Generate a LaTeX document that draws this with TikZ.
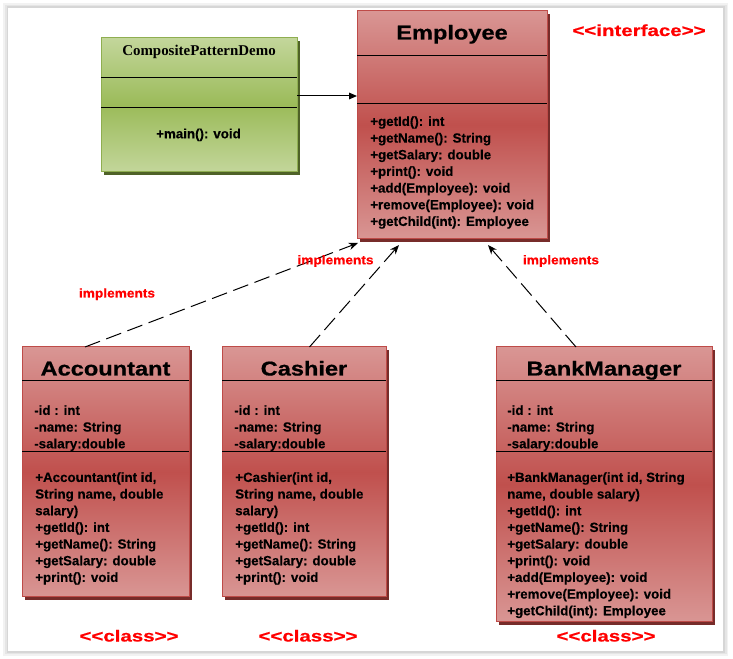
\documentclass[tikz,border=0pt]{standalone}
\usepackage{fontspec}
\usepackage{xcolor}
\usepackage{tikz}
\usetikzlibrary{positioning,calc,fit,shadows,arrows.meta}
\setmainfont{Liberation Sans}
\newfontfamily\titlefont{Liberation Sans}[FakeStretch=1.18, FakeBold=0.6]
\newfontfamily\tagfont{Liberation Sans}[FakeStretch=1.28, FakeBold=0.6]
\newfontfamily\implfont{Liberation Sans}[FakeStretch=1.08, FakeBold=0.4]
\newfontfamily\bodyfont{Liberation Sans}[FakeBold=0.3]
\newfontfamily\demofont{Liberation Serif}

\definecolor{redlight}{HTML}{D99694}
\definecolor{reddark}{HTML}{C0504D}
\definecolor{redline}{HTML}{BE4B48}
\definecolor{redshadow}{HTML}{772C2A}
\definecolor{greenlight}{HTML}{C3D69B}
\definecolor{greendark}{HTML}{9BBB59}
\definecolor{greenline}{HTML}{8FAE50}
\definecolor{greenshadow}{HTML}{4F6228}

\tikzset{
  classbox/.style={draw=redline, line width=0.75pt, inner sep=0pt, outer sep=0pt,
    top color=redlight, bottom color=redlight, middle color=reddark,
    drop shadow={shadow xshift=2.25pt, shadow yshift=-2.25pt, fill=redshadow, opacity=1}},
  demobox/.style={draw=greenline, line width=0.75pt, inner sep=0pt, outer sep=0pt,
    top color=greenlight, bottom color=greenlight, middle color=greendark,
    drop shadow={shadow xshift=2.25pt, shadow yshift=-2.25pt, fill=greenshadow, opacity=1}},
  divider/.style={line width=0.75pt, black},
  classname/.style={font={\titlefont\bfseries\fontsize{15}{18}\selectfont}, anchor=base, inner sep=0pt},
  demoname/.style={font={\demofont\bfseries\fontsize{11.2}{13}\selectfont}, anchor=base, inner sep=0pt},
  members/.style={font={\bodyfont\bfseries\fontsize{10}{12.5}\selectfont}, align=left, anchor=north west, inner sep=0pt},
  stereotype/.style={font={\tagfont\bfseries\fontsize{12}{14}\selectfont}, text=red, anchor=base, inner sep=0pt},
  impllabel/.style={font={\implfont\bfseries\fontsize{9.5}{11}\selectfont}, text=red, anchor=base, inner sep=0pt},
  realize/.style={line width=0.75pt, dash pattern=on 12pt off 5pt, -{Stealth[length=7pt,width=5.5pt]}},
  assoc/.style={line width=0.75pt, -{Triangle[length=6pt,width=5pt]}},
}

\begin{document}
\begin{tikzpicture}[x=0.75pt, y=-0.75pt]
        \useasboundingbox (0,0) rectangle (733,659);
        \fill[white] (0,0) rectangle (733,659);

        % Page with its shadow
        \fill[black!5] (3,3) rectangle (728,656);
        \fill[black!10] (5,5) rectangle (726.5,654.5);
        \fill[black!16] (6.5,6.5) rectangle (725,653);
        \fill[white] (8,8) rectangle (723,651);

        % Demo class
        \node[demobox, fit={(101,38) (297,172)}] (demo) {};
        \draw[divider] ($(demo.north west)+(0,40)$) -- ($(demo.north east)+(0,40)$);
        \draw[divider] ($(demo.north west)+(0,70)$) -- ($(demo.north east)+(0,70)$);
        \node[demoname] (demoname) at (199,56) {CompositePatternDemo};
        \node[members, anchor=base] (demoops) at (198.5,138.3) {+main(): void};

        % Employee interface
        \node[classbox, fit={(357,11) (547,239)}] (emp) {};
        \draw[divider] ($(emp.north west)+(0,45)$) -- ($(emp.north east)+(0,45)$);
        \draw[divider] ($(emp.north west)+(0,93)$) -- ($(emp.north east)+(0,93)$);
        \node[classname] (empname) at (452,39.5) {Employee};
        \node[members] (empops) at (370,116) {+getId(): int\\+getName(): String\\+getSalary: double\\+print(): void\\+add(Employee): void\\+remove(Employee): void\\+getChild(int): Employee};
        \node[stereotype] (emptag) at (639,36) {<<interface>>};

        % Accountant class
        \node[classbox, fit={(22,347) (189,597)}] (acc) {};
        \draw[divider] ($(acc.north west)+(0,34)$) -- ($(acc.north east)+(0,34)$);
        \draw[divider] ($(acc.north west)+(0,105)$) -- ($(acc.north east)+(0,105)$);
        \node[classname] (accname) at (105.5,375.5) {Accountant};
        \node[members] (accattr) at (34,405) {-id : int\\-name: String\\-salary:double};
        \node[members] (accops) at (35,472) {+Accountant(int id,\\String name, double\\salary)\\+getId(): int\\+getName(): String\\+getSalary: double\\+print(): void};
        \node[stereotype] (acctag) at (129,641.5) {<<class>>};

        % Cashier class
        \node[classbox, fit={(222,347) (386,597)}] (cash) {};
        \draw[divider] ($(cash.north west)+(0,34)$) -- ($(cash.north east)+(0,34)$);
        \draw[divider] ($(cash.north west)+(0,105)$) -- ($(cash.north east)+(0,105)$);
        \node[classname] (cashname) at (304,375.5) {Cashier};
        \node[members] (cashattr) at (234,405) {-id : int\\-name: String\\-salary:double};
        \node[members] (cashops) at (235,472) {+Cashier(int id,\\String name, double\\salary)\\+getId(): int\\+getName(): String\\+getSalary: double\\+print(): void};
        \node[stereotype] (cashtag) at (308,641.5) {<<class>>};

        % BankManager class
        \node[classbox, fit={(496,347) (712,622)}] (bank) {};
        \draw[divider] ($(bank.north west)+(0,34)$) -- ($(bank.north east)+(0,34)$);
        \draw[divider] ($(bank.north west)+(0,105)$) -- ($(bank.north east)+(0,105)$);
        \node[classname] (bankname) at (604,375.5) {BankManager};
        \node[members] (bankattr) at (507,405) {-id : int\\-name: String\\-salary:double};
        \node[members] (bankops) at (507,472) {+BankManager(int id, String\\name, double salary)\\+getId(): int\\+getName(): String\\+getSalary: double\\+print(): void\\+add(Employee): void\\+remove(Employee): void\\+getChild(int): Employee};
        \node[stereotype] (banktag) at (606,641.5) {<<class>>};

        % Association
        \coordinate (assocy) at (0,96);
        \draw[assoc] (demo.east |- assocy) -- (emp.west |- assocy);

        % Realizations
        \draw[realize] ($(acc.north)+(-20.5,0)$) -- ($(emp.south west)+(1,4)$);
        \draw[realize] ($(cash.north)+(5.5,0)$) -- ($(emp.south)+(-53,6)$);
        \draw[realize] ($(bank.north)+(-28,0)$) -- ($(emp.south)+(36,6)$);
        \node[impllabel] (impl1) at (117,297.5) {implements};
        \node[impllabel] (impl2) at (335.5,264.3) {implements};
        \node[impllabel] (impl3) at (561,264.3) {implements};
    \end{tikzpicture}
\end{document}
